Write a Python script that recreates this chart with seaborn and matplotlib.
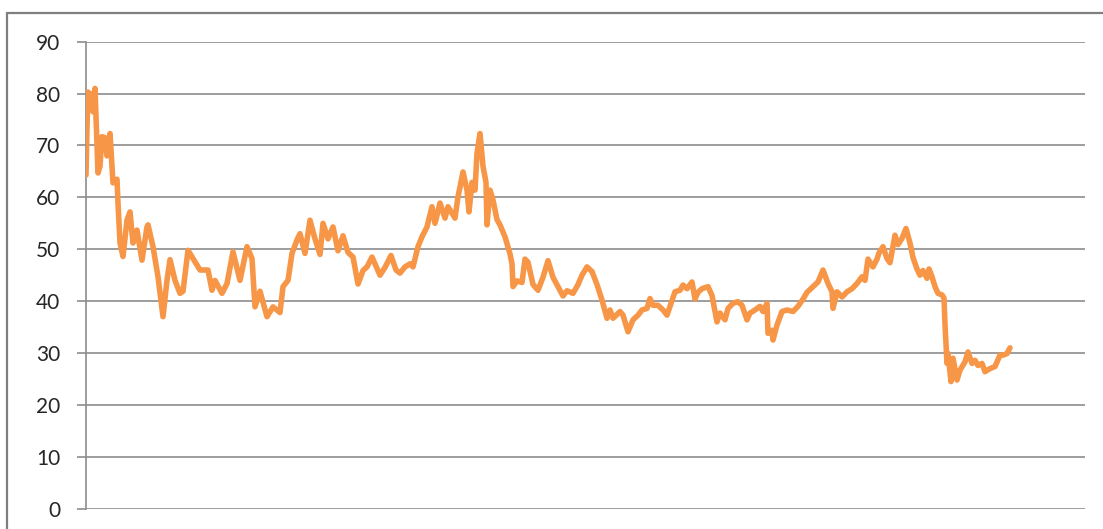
import matplotlib
matplotlib.use("Agg")
import matplotlib.pyplot as plt
from matplotlib.lines import Line2D
import seaborn as sns
import pandas as pd

# Trading session index
session = [
    0, 1, 2, 4, 6, 7, 9, 12, 14, 16, 19, 21, 24, 27, 31, 32, 34, 37, 41, 44,
    47, 51, 56, 61, 62, 67, 72, 77, 81, 84, 89, 94, 97, 102, 107, 114, 122, 126,
    129, 136, 141, 147, 154, 161, 166, 169, 174, 181, 187, 194,
    197, 202, 206, 211, 214, 219, 224, 229, 234, 237, 242, 247, 252, 257, 262,
    267, 272, 277, 281, 286, 289, 294, 299, 305, 310,
    314, 319, 324, 327, 332, 336, 341, 346, 349, 354, 359, 362, 369, 372, 377,
    381, 383, 386, 389, 391, 394, 397, 400, 401, 404, 407, 411, 414, 419, 424,
    426, 427, 431, 436, 439, 442, 447, 452, 457, 462, 467, 472, 477, 481, 487,
    492, 496, 501, 506, 511,
    516, 521, 524, 527, 534, 537, 542, 547, 552, 556, 561, 564, 567, 572, 577,
    581, 584, 589, 594, 597, 601, 606, 609, 612, 616, 622, 626, 631, 634, 639,
    642, 647, 652, 656, 661, 664, 669, 674, 677, 681, 682, 686, 687, 691, 696,
    701, 707, 712, 717, 721, 727, 732, 737, 742, 746, 747, 751, 756, 761, 766,
    771, 776, 779, 782, 787, 791, 793,
    797, 801, 804, 809, 812, 816, 820, 824, 827, 831, 834, 837, 841, 843, 846,
    849, 852, 856, 858, 859, 861, 862, 865, 867, 871, 874, 879, 882, 886, 889,
    892, 896, 899, 904, 909, 914, 917, 921, 924,
]

# Closing level for each session
close = [
    64.3, 73.6, 80.3, 78.0, 80.0, 76.5, 81.0, 64.7, 66.0, 71.7, 71.5, 68.0,
    72.3, 62.8, 63.5, 58.9, 51.2, 48.6, 55.6, 57.2, 51.2, 53.7, 47.9, 54.3,
    54.7, 50.5, 44.7, 37.0, 44.0, 48.0, 44.0, 41.5, 41.9, 49.8, 48.2, 46.0,
    46.0, 42.1, 44.0, 41.5, 43.4, 49.5, 44.0, 50.5, 48.2, 38.9, 41.9, 37.0,
    38.9, 37.8,
    42.8, 44.0, 49.2, 51.8, 53.0, 49.2, 55.6, 52.0, 49.0, 55.0, 52.0, 54.3,
    49.7, 52.6, 49.4, 48.5, 43.3, 45.9, 46.6, 48.5, 47.2, 45.0, 46.5, 48.8,
    46.0,
    45.4, 46.6, 47.2, 46.6, 50.5, 52.4, 54.3, 58.2, 55.0, 58.9, 56.0, 58.2,
    56.0, 60.1, 64.9, 61.4, 57.2, 62.9, 61.4, 68.5, 72.3, 66.0, 62.9, 54.7,
    61.4, 59.5, 55.7, 54.7, 52.4, 49.1, 47.2, 42.8, 43.9, 43.6, 48.1, 47.5,
    43.2, 42.1, 44.6, 47.8, 44.6, 42.8, 41.0, 42.0, 41.5, 43.2, 45.0, 46.6,
    45.7, 43.2,
    40.2, 36.7, 38.3, 36.7, 38.0, 37.3, 34.1, 36.4, 37.3, 38.3, 38.6, 40.5,
    39.2, 39.2, 38.3, 37.3, 39.0, 41.8, 42.1, 43.1, 42.4, 43.7, 40.4, 41.7,
    42.4, 42.8, 41.1, 36.0, 37.7, 36.4, 38.6, 39.6, 39.9, 39.2, 36.4, 37.7,
    38.3, 39.0, 38.0, 39.6, 33.8, 34.4, 32.5, 35.4, 38.0, 38.3, 38.0, 39.0,
    40.4, 41.7, 42.8, 43.7, 46.0, 43.4, 41.8, 38.6, 41.8, 40.8, 41.8, 42.4,
    43.4, 44.7, 44.0, 48.1, 46.6, 48.1, 49.3,
    50.5, 48.2, 47.4, 52.7, 50.9, 52.1, 54.0, 51.2, 48.4, 46.2, 45.0, 45.9,
    44.4, 46.2, 44.7, 42.8, 41.5, 41.2, 40.6, 35.5, 28.0, 29.9, 24.5, 29.0,
    24.8, 26.7, 28.3, 30.2, 28.0, 28.6, 27.6, 28.0, 26.4, 27.0, 27.4, 29.6,
    29.6, 29.9, 31.0,
]
y_ticks = [0, 10, 20, 30, 40, 50, 60, 70, 80, 90]

df = pd.DataFrame({"session": session, "close": close})

sns.set_style("white")
plt.rcParams["font.family"] = ["Lato", "DejaVu Sans"]

W, H = 1103, 529
fig = plt.figure(figsize=(W / 100, H / 100), dpi=100)
ax = fig.add_axes([85.5 / W, 20.3 / H, (1085 - 85.5) / W, (508.7 - 41.7) / H])

grid_col = "#8c8c8c"
for v in y_ticks:
    ax.axhline(v, color=grid_col, lw=1.2, zorder=1)

sns.lineplot(data=df, x="session", y="close", ax=ax, color="#F79646",
             lw=4.0, zorder=3, solid_joinstyle="round", solid_capstyle="round")

ax.set_xlim(-0.5, 999)
ax.set_ylim(0, 90)
ax.set_yticks(y_ticks)
ax.set_xticks([])
ax.set_xlabel("")
ax.set_ylabel("")
for s in ["top", "right", "bottom"]:
    ax.spines[s].set_visible(False)
ax.spines["left"].set_color(grid_col)
ax.spines["left"].set_linewidth(1.2)
ax.tick_params(axis="y", length=6.5, width=1.2, color=grid_col, pad=11.5,
               labelsize=15, labelcolor="#262626", left=True)

# Outer chart frame
frame_col = "#7f7f7f"
fig.add_artist(Line2D([7 / W, 1.0], [1 - 13 / H, 1 - 13 / H],
                      transform=fig.transFigure, color=frame_col, lw=1.6))
fig.add_artist(Line2D([7 / W, 7 / W], [0.0, 1 - 13 / H],
                      transform=fig.transFigure, color=frame_col, lw=1.6))

fig.savefig("out.png", dpi=100)
